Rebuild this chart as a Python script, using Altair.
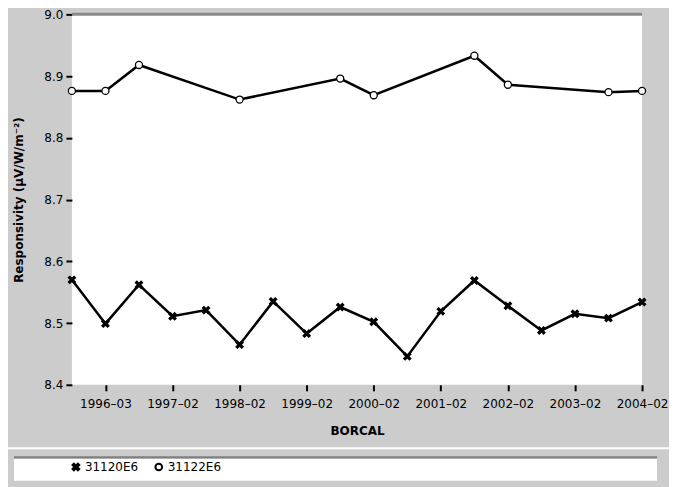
import altair as alt
import pandas as pd
import json

# ---- data ----
series_names = ["31120E6", "31122E6"]

s1_idx = list(range(18))
s1_val = [8.570, 8.499, 8.562, 8.511, 8.521, 8.465, 8.535, 8.483, 8.526,
          8.502, 8.446, 8.519, 8.569, 8.528, 8.488, 8.515, 8.508, 8.534]

s2_idx = [0, 1, 2, 5, 8, 9, 12, 13, 16, 17]
s2_val = [8.876, 8.876, 8.918, 8.862, 8.896, 8.869, 8.933, 8.886, 8.874, 8.876]

tick_idx = [1, 3, 5, 7, 9, 11, 13, 15, 17]
tick_labels = ["1996–03", "1997–02", "1998–02", "1999–02", "2000–02",
               "2001–02", "2002–02", "2003–02", "2004–02"]

y_ticks = [8.4, 8.5, 8.6, 8.7, 8.8, 8.9, 9.0]

rows = [{"idx": i, "value": v, "series": series_names[0]} for i, v in zip(s1_idx, s1_val)]
rows += [{"idx": i, "value": v, "series": series_names[1]} for i, v in zip(s2_idx, s2_val)]
df = pd.DataFrame(rows)

label_map = {str(i): l for i, l in zip(tick_idx, tick_labels)}
label_expr = json.dumps(label_map) + "[''+datum.value]"

FONT = "DejaVu Sans"
X_SHAPE = "M-1,-0.6L-0.6,-1L0,-0.4L0.6,-1L1,-0.6L0.4,0L1,0.6L0.6,1L0,0.4L-0.6,1L-1,0.6L-0.4,0Z"

x_enc = alt.X("idx:Q",
              scale=alt.Scale(domain=[0, 17], nice=False, zero=False),
              axis=alt.Axis(values=tick_idx, labelExpr=label_expr, title="BORCAL",
                            grid=False, domain=False, tickColor="black", tickWidth=2,
                            tickSize=6, labelPadding=8, labelFont=FONT, labelFontSize=12,
                            labelColor="black", titleFont=FONT, titleFontSize=12,
                            titleFontWeight="bold", titleColor="black", titlePadding=16,
                            labelFlush=False))
y_enc = alt.Y("value:Q",
              scale=alt.Scale(domain=[8.4, 9.0], nice=False, zero=False),
              axis=alt.Axis(values=y_ticks, format=".1f", title="Responsivity (μV/W/m⁻²)",
                            grid=False, domain=False, tickColor="black", tickWidth=2,
                            tickSize=6, labelPadding=3, labelFont=FONT, labelFontSize=12,
                            labelColor="black", titleFont=FONT, titleFontSize=12,
                            titleFontWeight="bold", titleColor="black", titlePadding=18))

base = alt.Chart(df)

lines = base.mark_line(color="black", strokeWidth=2.5).encode(
    x=x_enc, y=y_enc, detail="series:N", order="idx:Q")


def make_legend():
    return alt.Legend(title=None, orient="none", legendX=-2, legendY=447,
                      direction="horizontal", labelFont=FONT, labelFontSize=12,
                      labelColor="black", symbolStrokeColor="black", symbolStrokeWidth=2,
                      symbolSize=45, columnPadding=12, labelOffset=3, zindex=1)


points = base.mark_point(filled=True, strokeWidth=1.3, size=50, opacity=1).encode(
    x="idx:Q", y="value:Q",
    shape=alt.Shape("series:N", scale=alt.Scale(domain=series_names, range=[X_SHAPE, "circle"]),
                    legend=make_legend()),
    fill=alt.Fill("series:N", scale=alt.Scale(domain=series_names, range=["black", "white"]),
                  legend=make_legend()),
    stroke=alt.Stroke("series:N", scale=alt.Scale(domain=series_names, range=["black", "black"]),
                      legend=make_legend()),
)

top_rule = alt.Chart(alt.Data(values=[{"v": 9.0}])).mark_rule(
    color="#8a8a8a", strokeWidth=3).encode(y="v:Q")

one = alt.Data(values=[{"a": 1}])
separator = alt.Chart(one).mark_rect(color="white").encode(
    x=alt.value(-64), x2=alt.value(600), y=alt.value(433.5), y2=alt.value(435.5))
legend_border = alt.Chart(one).mark_rect(color="#7f7f7f").encode(
    x=alt.value(-58), x2=alt.value(586), y=alt.value(442.5), y2=alt.value(445))
legend_box = alt.Chart(one).mark_rect(color="white").encode(
    x=alt.value(-58), x2=alt.value(586), y=alt.value(445), y2=alt.value(467))

chart = alt.layer(separator, legend_border, legend_box, top_rule, lines, points).properties(
    width=571, height=371,
    autosize=alt.AutoSizeParams(type="none"),
    padding={"left": 64, "top": 6, "right": 27, "bottom": 110},
    background="#cccccc",
).configure_view(fill="white", stroke=None)

chart.save("out.html", embed_options={"renderer": "svg", "actions": False})
